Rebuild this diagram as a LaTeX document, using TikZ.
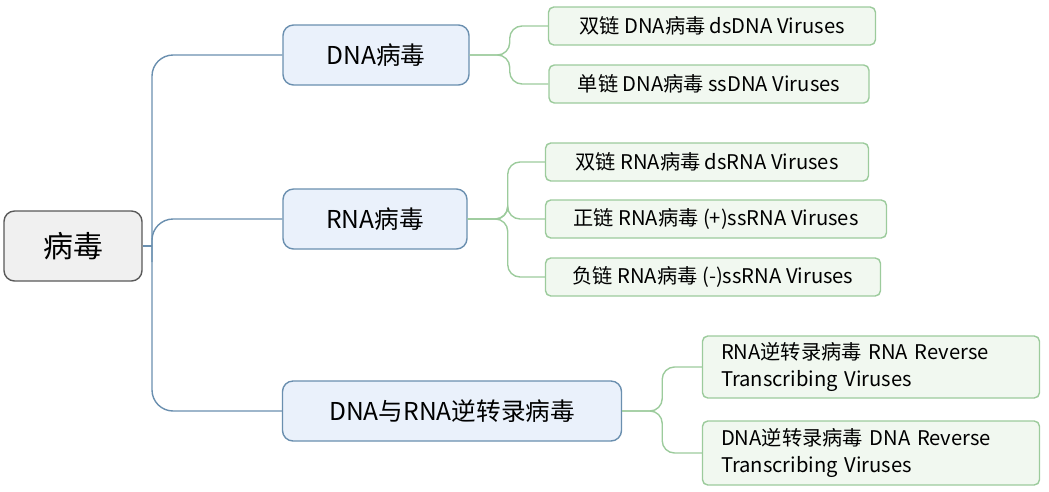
\documentclass[tikz,border=0pt]{standalone}
\usepackage{fontspec}
\setmainfont{Noto Sans CJK SC}
\usetikzlibrary{positioning}
\definecolor{trunkc}{HTML}{6A8FAF}
\definecolor{topicf}{HTML}{EAF1FB}
\definecolor{twigc}{HTML}{9CCB9C}
\definecolor{leaff}{HTML}{F1F8F0}
\tikzset{
  root/.style={draw=gray!70!black, fill=gray!12, rounded corners=6pt, line width=0.8pt,
    minimum width=138*0.02cm, minimum height=70*0.02cm, font=\fontsize{17}{20}\selectfont},
  topic/.style={draw=trunkc, fill=topicf, rounded corners=6pt, line width=0.8pt,
    minimum height=60*0.02cm, font=\fontsize{14}{17}\selectfont},
  leaf/.style={draw=twigc, fill=leaff, rounded corners=3pt, line width=0.8pt,
    minimum height=38*0.02cm, font=\fontsize{11.5}{15}\selectfont, inner xsep=10pt},
  trunk/.style={draw=trunkc, line width=0.8pt, rounded corners=12pt},
  twig/.style={draw=twigc, line width=0.8pt, rounded corners=7pt}
}
\begin{document}
\begin{tikzpicture}[x=0.02cm, y=-0.02cm]
	\useasboundingbox (0,0) rectangle (1049,491);
	% main nodes
	\node[root] (virus) at (73,246) {病毒};
	\node[topic, minimum width=186*0.02cm] (dna) at (376,55) {DNA病毒};
	\node[topic, minimum width=184*0.02cm] (rna) at (375,219) {RNA病毒};
	\node[topic, minimum width=339*0.02cm] (rt) at (452,411) {DNA与RNA逆转录病毒};
	% leaves
	\node[leaf, minimum width=327*0.02cm] (dsdna) at (712,26) {双链 DNA病毒 dsDNA Viruses};
	\node[leaf, minimum width=320*0.02cm] (ssdna) at (709,84) {单链 DNA病毒 ssDNA Viruses};
	\node[leaf, minimum width=323*0.02cm] (dsrna) at (707,162) {双链 RNA病毒 dsRNA Viruses};
	\node[leaf, minimum width=341*0.02cm] (psrna) at (716,219) {正链 RNA病毒 (+)ssRNA Viruses};
	\node[leaf, minimum width=335*0.02cm] (nsrna) at (713,277) {负链 RNA病毒 (-)ssRNA Viruses};
	\node[leaf, minimum width=337*0.02cm, minimum height=62*0.02cm, align=left, text width=300*0.02cm] (rrt) at (871,367) {RNA逆转录病毒 RNA Reverse\\Transcribing Viruses};
	\node[leaf, minimum width=337*0.02cm, minimum height=64*0.02cm, align=left, text width=300*0.02cm] (drt) at (871,453) {DNA逆转录病毒 DNA Reverse\\Transcribing Viruses};
	% connectors
	\coordinate (j0) at (152,246);
	\draw[trunk] (virus.east) -- (j0);
	\draw[trunk] (dna.west) -| (j0) |- (rt.west);
	\draw[trunk] (rna.west) -| (152,262);
	\foreach \a/\b in {dna/dsdna, dna/ssdna, rna/dsrna, rna/psrna, rna/nsrna}
	{ \draw[twig] (\a.east) -- ++(40,0) |- (\b.west); }
	\foreach \b in {rrt, drt}
	{ \draw[twig] (rt.east) -- ++(40,0) |- (\b.west); }
\end{tikzpicture}
\end{document}
